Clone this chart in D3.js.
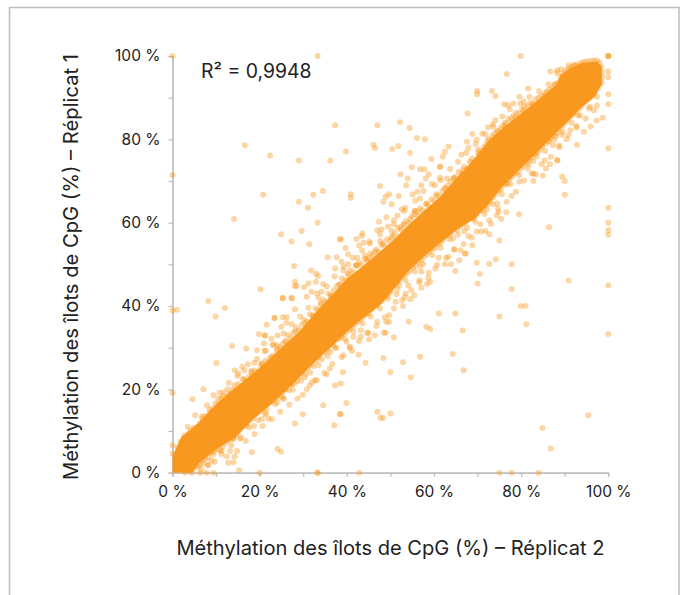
<!DOCTYPE html>
<html><head><meta charset="utf-8">
<script src="https://cdn.jsdelivr.net/npm/d3@7"></script>
<style>html,body{margin:0;padding:0;background:#fff}svg{display:block}text{font-family:Inter,"Noto Sans",sans-serif;fill:#222}</style>
</head><body><svg id="c" width="685" height="595"></svg>
<script>
const xTitle="Méthylation des îlots de CpG (%) – Réplicat 2";
const yTitle="Méthylation des îlots de CpG (%) – Réplicat 1";
const rLabel="R² = 0,9948";
const majorTicks=[0,20,40,60,80,100];
const minorTicks=[10,30,50,70,90];
// Dense core of the cloud, read as an envelope [Réplicat 2, Réplicat 1]
const coreUpper=[[0,0],[0,4],[2,8.5],[6,12],[10,16.4],[14,20],[18,23.4],[21.6,26.6],[25.4,30.4],[29.2,34],[33.1,38.8],[36.9,43],[40,46.6],[43,49],[46,51.6],[50,55.2],[53.7,59],[57.5,62.6],[61.4,66.2],[65.2,70.8],[69,75],[72.8,80],[76.6,83.4],[80.5,86.6],[84.3,89.8],[88,93],[89,95.4],[91,97],[94,98.4],[97.5,98.6],[98.5,97.4]];
const coreLower=[[98.5,93.2],[97,90.4],[94,87.8],[90.8,84.4],[87.7,81.2],[84.7,78],[81.6,74.8],[78.6,71.6],[75.5,68.4],[72.5,64.4],[69.4,61],[65.6,58.6],[61.8,55.4],[58,52.2],[54,48.2],[50.3,43.4],[47.6,40.2],[43.4,36.8],[40.4,34.2],[37.3,31],[33.5,27.4],[29.6,23.4],[25.8,19.4],[22,15.8],[18.2,12.6],[14.4,8.4],[10.5,6],[6,2.2],[4.5,0]];
// Points hugging the edges of the core
const upperFringe=[[1.2,6],[1.8,7.4],[2.6,8.2],[3.1,7.9],[3.7,9.4],[4.4,9.1],[4.9,10.7],[5.6,10.9],[6.2,11.8],[6.9,12.2],[7.4,13.6],[8,13.4],[8.5,15.1],[9.2,15.4],[9.8,16.6],[10.5,16.4],[11.2,17.8],[11.9,17.4],[12.5,18.3],[13.1,18.9],[13.8,19.9],[14.5,19.6],[15,21.3],[15.7,20.8],[16.3,22.4],[16.9,22],[17.6,23.2],[18.2,22.9],[18.9,24.5],[19.5,24],[20.2,25.7],[20.8,25.2],[21.4,26.9],[22,26.5],[22.7,27.8],[23.3,28.1],[23.9,29.4],[24.6,30.1],[25.2,30.8],[25.8,31.5],[26.5,33],[27.1,32.4],[27.7,33.6],[28.3,34.8],[29,34.2],[29.6,35.5],[30.2,36.7],[30.9,36.2],[31.5,38],[32.1,37.6],[32.8,39.4],[33.4,39.1],[34,40.7],[34.6,41.5],[35.2,41],[35.8,43],[36.4,42.6],[37,43.8],[37.7,44.8],[38.3,45.2],[38.9,46.6],[39.5,46.1],[40.2,47.8],[40.8,48.6],[41.5,48.1],[42.1,49.7],[42.8,50.4],[43.4,49.9],[44.1,51.3],[44.7,50.8],[45.4,52.6],[46,52.1],[46.7,53.5],[47.3,53],[47.9,54.7],[48.6,54.4],[49.2,56],[49.8,55.6],[50.5,56.8],[51.1,57.4],[51.7,58.7],[52.4,58.3],[53,59.5],[53.6,60.4],[54.3,59.9],[54.9,61.5],[55.5,62],[56.2,61.6],[56.8,63.4],[57.4,63],[58.1,64.5],[58.7,64.1],[59.4,65.6],[60,65.2],[60.6,66.8],[61.3,66.4],[61.9,67.6],[62.5,68.3],[63.1,68.9],[63.8,69.9],[64.4,70.6],[65,71],[65.7,72.2],[66.3,71.8],[66.9,73.4],[67.6,73],[68.2,74.7],[68.8,75.4],[69.5,75],[70.1,76.6],[70.7,77.2],[71.4,78.1],[72,78.7],[72.6,80],[73.3,80.8],[73.9,81.4],[74.5,82],[75.2,82.6],[75.8,83.2],[76.4,84],[77.1,84.8],[77.7,85],[78.3,85.7],[78.9,86.4],[79.6,86.2],[80.2,87.2],[80.8,87.9],[81.5,88],[82.1,88.8],[82.7,88.4],[83.3,89.6],[84,89.9],[84.6,90.6],[85.3,90.4],[85.9,91.4],[86.5,92],[87.2,92.2],[87.8,93.2],[88.4,93.6],[89,95],[89.6,95.8],[90.2,96.5],[90.9,97],[91.6,97.4],[92.3,97.7],[93,98],[93.8,98.4],[94.5,98.6],[95.2,98.7],[96,98.8],[96.7,98.9],[97.4,98.9],[98,98.4],[98.3,97.4],[98.5,96.2],[98.6,95],[98.4,93.8]];
const lowerFringe=[[4.8,0.9],[5.5,1.6],[6.3,2.1],[6.9,3],[7.5,3.4],[8.2,3.6],[8.8,4.8],[9.5,5.2],[10.2,5.7],[10.8,6.6],[11.5,6.3],[12.1,7.2],[12.7,7.7],[13.4,8],[14,8.4],[14.6,9.1],[15.3,10.4],[15.9,10.9],[16.5,11.6],[17.2,12],[17.8,12.7],[18.4,13],[19.1,14],[19.7,14.6],[20.3,14.9],[21,15.8],[21.6,15.4],[22.2,16.9],[22.9,17.1],[23.5,17.6],[24.1,18.5],[24.8,18.2],[25.4,19.4],[26,20.1],[26.7,19.8],[27.3,21.2],[27.9,22.3],[28.6,22],[29.2,23.2],[29.8,24.2],[30.5,23.7],[31.1,25.1],[31.7,26],[32.4,25.6],[33,27],[33.6,27.8],[34.3,27.2],[34.9,28.8],[35.5,29.5],[36.2,29],[36.8,30.6],[37.4,30.1],[38.1,32],[38.7,32.5],[39.3,33.2],[40,33.8],[40.6,34.4],[41.2,34.9],[41.9,35.6],[42.5,36.3],[43.1,36.8],[43.8,37.4],[44.4,38],[45,38.2],[45.7,39.2],[46.3,39.8],[46.9,40.2],[47.6,41],[48.2,41.4],[48.8,42.7],[49.5,43],[50.1,43.4],[50.7,44.9],[51.4,45.4],[52,46],[52.6,46.8],[53.3,47.4],[53.9,47.9],[54.5,48.5],[55.2,49.3],[55.8,49.8],[56.4,50.6],[57.1,51],[57.7,51.8],[58.3,52.4],[59,53],[59.6,53.6],[60.2,53.9],[60.9,54.9],[61.5,55.2],[62.1,55.9],[62.8,56.8],[63.4,57],[64,57.6],[64.7,58.5],[65.3,58.2],[65.9,59.1],[66.6,59.7],[67.2,60],[67.8,60.8],[68.5,61],[69.1,60.9],[69.7,61.8],[70.4,62.8],[71,63],[71.6,63.9],[72.3,64.4],[72.9,65.2],[73.5,66.1],[74.2,66.8],[74.8,67.7],[75.4,68],[76.1,69.1],[76.7,69.6],[77.3,70.4],[78,71],[78.6,71.8],[79.2,72.1],[79.9,73],[80.5,73.6],[81.1,74.3],[81.8,75],[82.4,75.6],[83,76.4],[83.7,77],[84.3,77.5],[84.9,78.3],[85.6,79],[86.2,79.6],[86.8,80.4],[87.5,81],[88.1,81.6],[88.7,82.4],[89.4,83.2],[90,83.9],[90.6,84.6],[91.3,85.4],[91.9,86],[92.5,86.6],[93.2,87.3],[93.8,87.9],[94.5,88.7],[95.1,89.4],[95.8,90],[96.4,90.6],[97,91.4],[97.6,92.3],[98.1,93.2]];
const upperOuter=[[3.5,11],[5.2,13.8],[6.7,13.4],[7.9,16.2],[10.8,19.2],[11.6,18.4],[12.9,21.6],[14.2,20.9],[15.1,23.8],[16.2,22.5],[17.3,26],[18.1,24.4],[19.4,27.3],[20.6,26.1],[21.3,29.2],[22.4,27.5],[23.1,30.8],[24.2,29.6],[25.5,33.4],[26.1,31.6],[27.4,35.6],[28.2,33.9],[29.3,37.5],[30.4,35.9],[31.2,39.6],[32.3,37.8],[33.5,42],[34.1,40.3],[35.4,44.7],[36.3,42.4],[37.2,47.1],[38.4,45.1],[39.3,49.4],[40.4,47.4],[41.4,51.6],[42.4,49.7],[43.5,53.3],[44.6,51.2],[45.2,55.4],[46.4,53],[47.6,57.2],[48.3,55],[49.5,59.1],[50.3,56.5],[51.6,61.7],[52.3,58.9],[53.4,63.5],[54.6,60.9],[55.7,65.3],[56.3,62.7],[57.6,67.6],[58.4,64.6],[59.5,69.3],[60.5,66.4],[61.4,70.8],[62.6,68.2],[63.7,72.9],[64.6,70.7],[65.5,74.6],[66.7,72.6],[67.4,76.8],[68.6,74.5],[69.6,78.9],[70.4,76.3],[71.8,81.2],[72.3,79.7],[73.5,83.6],[74.7,81.9],[75.7,85.5],[76.3,83.6],[77.4,87.2],[78.6,85.2],[79.8,88.6],[80.5,86.9],[81.9,90.2],[82.8,88.3],[84.1,91.6],[85.5,91.1],[86.3,93.2],[87.6,93.1],[88.2,95.9],[89.2,96.8]];
const lowerOuter=[[6.6,0.8],[8.1,1.9],[9.7,2.6],[11.2,4.5],[12.4,3.9],[13.5,6.6],[14.8,5.2],[15.7,8.4],[16.8,7.6],[17.6,10.9],[18.8,9.3],[19.6,12.6],[20.7,11.2],[21.5,14.3],[22.8,12.8],[23.6,16.4],[24.7,14.6],[25.5,17.7],[26.8,16.3],[27.6,19.9],[28.7,17.8],[29.5,22.1],[30.8,20],[31.6,24],[32.7,22.2],[33.5,25.8],[34.8,23.9],[35.6,28],[36.7,26.1],[37.5,29.9],[38.8,27.7],[39.6,32.1],[40.7,30],[41.5,33.9],[42.8,31.6],[43.6,35.8],[44.7,33.5],[45.5,37.5],[46.8,35.2],[47.6,39.4],[48.7,37.3],[49.5,41.8],[50.8,39.4],[51.6,43.9],[52.7,41.4],[53.5,46.1],[54.8,43.8],[55.6,48.3],[56.7,46.2],[57.5,50.1],[58.8,48],[59.6,52.2],[60.7,49.9],[61.5,54],[62.8,51.5],[63.6,56],[64.7,53.5],[65.5,57.1],[66.8,54.9],[67.6,58.8],[68.7,56.4],[69.5,60.2],[70.8,57.9],[71.6,62.1],[72.7,60.6],[73.5,64.4],[74.8,62.6],[75.6,66.8],[76.7,65],[77.5,69.2],[78.8,67.4],[79.6,71.4],[80.7,70.1],[81.5,73],[82.8,71.8],[83.6,75.9],[84.7,74],[85.5,77.2],[86.8,75.8],[87.6,79.9],[88.7,78.5],[89.5,81.8],[90.8,81],[91.6,84],[92.7,83.2],[93.5,85.7],[94.8,85],[95.6,87.4],[96.7,87],[97.4,90.2]];
// Individually legible points
const upperPoints=[[79.9,100],[76.7,95.7],[86.7,96.3],[88.3,96.6],[90.9,97.8],[92.1,97.9],[81.6,92.2],[69.9,91.6],[69.9,90.8],[73.3,91.6],[74.1,90.4],[67.7,86.2],[79.6,90.2],[80.6,89.1],[76.1,88.4],[78.2,88.6],[77,88.2],[47,83.4],[52.2,84.1],[54.4,82.7],[56.1,80.3],[57.9,80],[46.1,78.7],[46.5,77.9],[39.8,77.1],[50.4,77.7],[51.8,78.4],[54.5,76.7],[63.3,78.3],[62.5,77],[62,75.8],[59.4,75.3],[66.3,76.3],[68.8,81.3],[67.6,79.4],[67.9,77.9],[70.1,77.5],[69.8,79.9],[71.1,81.4],[72.4,82.9],[74.1,84.6],[73.6,83],[76.4,82.8],[61.4,73.4],[61.4,73.4],[54.9,73.3],[56.8,72.8],[57.8,72.8],[52.3,71.6],[58.8,71.6],[54,70.6],[58.1,70.6],[53.6,69],[47.6,68.8],[61.5,70.2],[63,70.6],[60.2,69],[57.1,69],[40.9,66.8],[40.9,65.9],[49.7,66.8],[48.4,65],[48.9,66.2],[51.9,66.4],[50.3,64.4],[55.1,66.8],[56.2,67.4],[56.8,65.8],[52.6,63.2],[53.2,62.8],[55.6,62.8],[55.6,62.8],[49.1,61.3],[47.4,60.2],[50.8,60.6],[50.8,59.6],[53.1,59.7],[48,58.4],[47,58.2],[50.3,58],[43.6,57.4],[42.2,56.1],[43.4,56.8],[38.6,56],[43.9,55.2],[42.8,54.5],[45.3,55],[47.7,55.6],[39.7,53.9],[40.3,52.4],[42.4,51.6],[44.2,52.1],[45.1,51.6],[38.8,50.6],[40.3,50],[42.1,49.8],[39.2,48.6]];
const upperLeftPoints=[[33.3,100],[37.3,83.4],[16.6,78.6],[22.4,76.1],[29,74.9],[36.2,74.9],[34.5,67.6],[32.3,66.7],[20.8,66.7],[29,65],[31.1,63.6],[14.1,60.9],[33.3,60],[29.6,58],[24.9,57.2],[27.3,55.5],[31.4,54.8],[38.4,56],[35.6,51.7],[37.7,51.7],[27.9,49.6],[31.8,48.5],[32.9,47.8],[33.4,47.2],[37.3,49],[28.1,45.8],[28.1,44.8],[28.5,44.8],[31.2,45.4],[30.2,44.5],[32.9,45.8],[34.6,45.3],[20.2,44],[25.3,42],[27.3,42],[30.8,42.2],[31.9,43.4],[33.2,43],[34.2,43.4],[8.2,41.2],[1,39.1],[12,39.5],[9.9,37.5],[21.6,35.5],[23.4,37.1],[23.4,37.1],[25.3,37.3],[26.2,37.3],[25.3,41.8],[27.4,41.8],[28.1,39.2],[26.2,36],[25,35],[19.8,33.3],[21.2,32.9],[21.2,32.9],[22.7,32.2],[24.1,32.9],[21,31],[23.1,30.6],[23.9,30.6],[13.7,30.4],[16.9,29.8],[19.4,29.4],[21.2,29.3],[10.1,26.3],[18.8,26.4],[20.5,26.2],[14.3,24.6],[16,25.4],[16.5,24.6],[14.9,23.2],[18.2,24.1],[18.5,23],[7.1,20],[4.6,17.6],[9.4,18.6],[11.7,19.3],[12.6,20],[13.3,19],[10.5,17.7],[4.2,10.2],[2.7,8.9],[6.9,13],[8.6,14.5]];
const lowerPoints=[[98.7,85.2],[97.3,84.5],[95.9,83.1],[94.4,81.8],[97.4,88.1],[95.8,87.8],[93.1,85.8],[92.7,82.8],[91.3,82.2],[92.8,78.7],[90.4,80],[89.3,81.1],[88,80.8],[88.8,78.1],[86.4,79.4],[84.3,78.8],[87.3,78.6],[83.3,76.6],[88.3,75],[88.3,75],[86.6,74],[85.4,74.9],[85.7,73],[81.7,74],[82.8,74.8],[82.4,71.8],[83.4,71.6],[85,71.3],[82.8,70],[79.6,69.8],[89.4,71.1],[90,70],[90,66.7],[77.8,66.4],[76.8,69.2],[74.5,64.6],[76.6,62.5],[79.5,62],[74.7,63.4],[72.2,63.2],[74.4,61.8],[75.4,60.9],[73.1,59.7],[86.4,58.9],[75,55.7],[71.8,58],[72.7,57.2],[69.8,57.9],[70.6,59.6],[66.9,58],[67.9,56.8],[68.8,54.6],[64.6,53.6],[66.1,53.4],[67.2,52.6],[67.2,52.6],[64.4,56.2],[63.3,51.8],[65.8,51],[61.1,51.6],[62.5,50],[63.9,50],[60.3,49],[64.9,48.4],[69.8,50.4],[74.2,51.2],[72.7,50.1],[77.8,50],[70.5,47.7],[70,45.4],[77.8,44.1],[90.9,46.1],[58.7,46.8],[59.1,45.8],[56.6,45.7],[57.1,44.4],[58.4,45.3],[55.5,42.6],[53.5,43],[53.3,42.1],[51.4,42.8],[54.1,44.9],[52,44.9],[49.1,42.2],[57.1,48.2],[56.8,49.4]];
const lowerFarPoints=[[61.1,38.2],[64.9,38.2],[75,37.5],[79.9,40],[81,40],[81.2,35.6],[54.2,36.2],[49.7,37.8],[49.7,36.2],[49,36.2],[58.2,35],[59.1,34.5],[66.6,34.1],[48.5,33.6],[48.9,33.6],[50.8,32.5],[46.4,33],[45.1,32],[44.9,33.6],[43.2,32.6],[43.2,34.2],[47,36.2],[51.2,41],[52.9,40],[54.6,41.6],[42.7,28.3],[41.2,29.2],[44.3,26.4],[48.4,27.5],[52.9,26.5],[56.8,27.8],[64.3,28.5],[50,24.1],[54.7,22.9],[66.8,24.6],[39.1,24.1],[38.6,21.4],[39.9,16.7],[38.6,14.1],[47,14.6],[47.7,13.2],[48.3,13.1],[50,14.2],[95.4,13.8],[84.9,10.7],[86.8,5.8],[40.7,30.2],[39.2,28.2],[39.9,31.4],[41.5,32.6],[29.9,18.7],[34.6,16.2],[29.9,14],[28.1,11.8],[37.1,11.4],[38.4,14],[18.2,4.9],[24.1,5.7],[24.9,5],[15.3,0.6],[12.8,2.4],[14,2.5],[14.3,3.9],[11.3,5.2],[13.2,5.2],[10.9,5.4],[9.4,4.4],[9,2.9],[7.1,2.2],[5.9,1.4],[8.2,1.8],[15.5,8.2],[14,8.1],[15.1,9.8],[17,11.2],[18.7,11.2],[20.5,12.8],[22,13],[21.2,14],[24.1,16.9],[25.4,18],[27.3,21.2],[28.1,21.4],[31.5,21],[32,21.7],[30.4,22.9],[33.1,22.2],[35.4,23.6],[36.1,25],[37.3,20.9]];
const edgeRight=[[100,100],[100,100],[100,100],[100,96.3],[100,94.9],[100,90.8],[100,88.4],[100,77.8],[100,63.6],[100,60],[100,58.2],[100,57.1],[100,44.9],[100,33.3]];
const edgeLeft=[[0,100],[0,71.4],[0,38.9],[0,19.2],[0,6.5],[0,4.6]];
const edgeBottom=[[42.8,0],[75,0],[77.8,0],[84,0],[20,0],[33.3,0],[33.3,0],[9.4,0],[7.8,0],[6.3,0],[4.4,0],[2.9,0]];

const svg=d3.select("#c");
const x=d3.scaleLinear().domain([0,100]).range([172.5,608.3]);
const y=d3.scaleLinear().domain([0,100]).range([472.7,56]);
const orange="#F9981F", grey="#bdbdbd";

svg.append("path").attr("d","M9.5,600V7.5H679V600").attr("fill","none").attr("stroke",grey).attr("stroke-width",1.5);

const fmt=d=>d+"\u00a0%";
const gx=svg.append("g").attr("transform",`translate(0,${y(0)})`);
gx.call(d3.axisBottom(x).tickValues(majorTicks).tickFormat(fmt).tickSize(4).tickPadding(9));
const gy=svg.append("g").attr("transform",`translate(${x(0)},0)`);
gy.call(d3.axisLeft(y).tickValues(majorTicks).tickFormat(fmt).tickSize(4).tickPadding(8));
gx.append("g").call(d3.axisBottom(x).tickValues(minorTicks).tickFormat("").tickSize(4).tickSizeOuter(0));
gy.append("g").call(d3.axisLeft(y).tickValues(minorTicks).tickFormat("").tickSize(4).tickSizeOuter(0));
svg.selectAll(".domain,.tick line").attr("stroke",grey).attr("stroke-width",1.2);
svg.selectAll(".tick text").attr("font-size",15.5).attr("font-family","Inter").attr("fill","#222");

const line=d3.line().x(d=>x(d[0])).y(d=>y(d[1])).curve(d3.curveLinearClosed);
svg.append("path").attr("d",line(coreUpper.concat(coreLower))).attr("fill",orange);
const all=[].concat(upperFringe,lowerFringe,upperOuter,lowerOuter,upperPoints,upperLeftPoints,lowerPoints,lowerFarPoints,edgeRight,edgeLeft,edgeBottom);
svg.append("g").selectAll("circle").data(all).join("circle")
 .attr("cx",d=>x(d[0])).attr("cy",d=>y(d[1])).attr("r",3).attr("fill",orange).attr("fill-opacity",.4);

svg.append("text").attr("x",201).attr("y",78).attr("font-size",19.4).text(rLabel);
svg.append("text").attr("x",390.5).attr("y",555).attr("text-anchor","middle").attr("font-size",20.1).text(xTitle);
svg.append("text").attr("transform","translate(77.5,267) rotate(-90)").attr("text-anchor","middle").attr("font-size",20.2).text(yTitle);
</script></body></html>
